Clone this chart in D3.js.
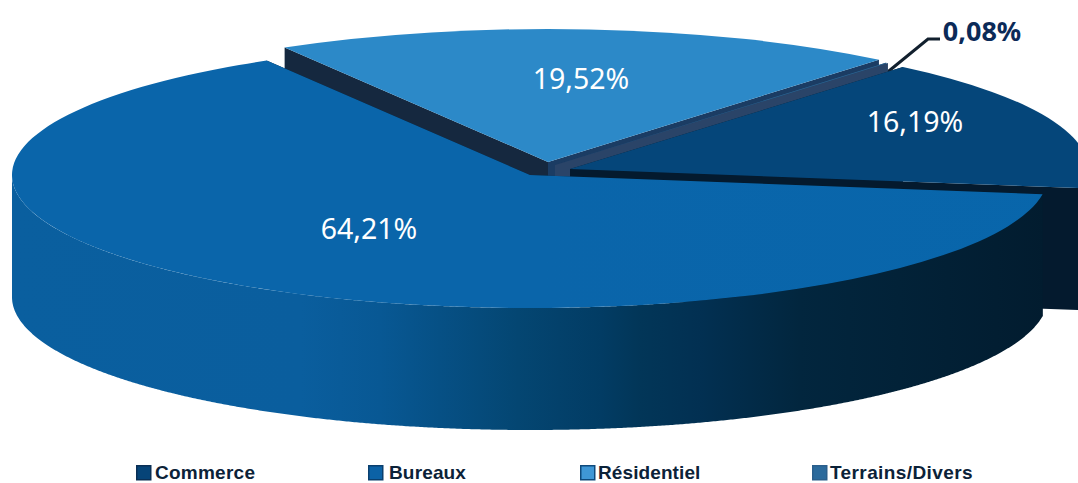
<!DOCTYPE html>
<html lang="fr">
<head>
<meta charset="utf-8">
<title>Répartition par type d'actif</title>
<script src="https://cdnjs.cloudflare.com/ajax/libs/d3/7.9.0/d3.min.js"></script>
<style>
  html, body { margin: 0; padding: 0; background: #fff; }
  svg { display: block; }
</style>
</head>
<body>
<div id="chart"></div>
<script>
// Portfolio split by asset type
const categories = ["Commerce", "Bureaux", "Résidentiel", "Terrains/Divers"];
const shares = [16.19, 64.21, 19.52, 0.08];
const shareLabels = ["16,19%", "64,21%", "19,52%", "0,08%"];

// Appearance per category
const topColors = ["url(#topCommerce)", "url(#topBureaux)", "#2c89c8", "#2b6390"];
const swatchColors = ["#064478", "#0c62a6", "#3f97d6", "#2b6a9c"];
const swatchBorders = ["#0a2f55", "#0a3f6e", "#0f4a7c", "#2b5f8c"];
const edgeColors = {
  Commerce: ["#041a2e", "#041a2e"],
  Bureaux: ["#021c2f", "#021c2f"],
  "Résidentiel": ["#15283f", "#1b3c63"],
  "Terrains/Divers": ["#1b3c63", "#2a4468"]
};
const rimFills = ["#071d30", "url(#rimBureaux)", "#15283f", "#1d3f60"];

// Pull-out of each wedge, and label anchors
const pullX = [40, 0, 18, 25];
const pullY = [-6, 0, -13, -10];
const labelX = [915, 369, 581, 982];
const labelY = [121, 228, 78, 30];

const width = 1078, height = 483;
const cx = 530, cy = 175, rx = 518, ry = 133, depth = 122;
const squash = ry / rx;

const svg = d3.select("#chart").append("svg")
  .attr("width", width).attr("height", height)
  .attr("viewBox", [0, 0, width, height]);

const defs = svg.append("defs");
function horizontalGradient(id, x1, x2, stops) {
  const g = defs.append("linearGradient").attr("id", id)
    .attr("gradientUnits", "userSpaceOnUse")
    .attr("x1", x1).attr("x2", x2).attr("y1", 0).attr("y2", 0);
  stops.forEach(([o, c]) => g.append("stop").attr("offset", o).attr("stop-color", c));
}
horizontalGradient("rimBureaux", 12, 1045, [
  [0, "#0a5f9f"], [0.28, "#0a5e9e"], [0.356, "#085894"], [0.414, "#065085"],
  [0.49, "#044672"], [0.57, "#023c64"], [0.608, "#023658"], [0.666, "#023052"],
  [0.763, "#02263e"], [1, "#021c2f"]
]);
horizontalGradient("topBureaux", 12, 1045, [
  [0, "#0a65aa"], [0.6, "#0866ab"], [1, "#0a5f9f"]
]);
horizontalGradient("topCommerce", 575, 1078, [
  [0, "#05467a"], [1, "#043a66"]
]);

// Wedge angles start from the Commerce edge, which sits just right of the front-right rim
const pie = d3.pie().sort(null).value(d => d.share)
  .startAngle(40 * Math.PI / 180)
  .endAngle((40 + 360) * Math.PI / 180);

const slices = pie(categories.map((name, i) => ({
  name, share: shares[i], top: topColors[i], rim: rimFills[i],
  dx: pullX[i], dy: pullY[i]
})));

const arc = d3.arc().innerRadius(0).outerRadius(rx);
const outline = d3.line();

const rimPoint = (a, d, drop = 0) => [
  cx + d.data.dx + rx * Math.sin(a),
  cy + d.data.dy - ry * Math.cos(a) + drop
];
const apex = (d, drop = 0) => [cx + d.data.dx, cy + d.data.dy + drop];

// Back wedges first so the front ones cover them
const paintOrder = ["Résidentiel", "Terrains/Divers", "Commerce", "Bureaux"];
const ordered = paintOrder.map(n => slices.find(s => s.data.name === n));

// Leader line for the smallest share, tucked behind the Commerce wedge
const leader = svg.append("path")
  .attr("fill", "none").attr("stroke", "#12202e").attr("stroke-width", 3)
  .attr("d", outline([[884, 75], [928, 39], [940, 39]]));

ordered.forEach(d => {
  const g = svg.append("g").attr("class", "slice");
  const [startEdge, endEdge] = edgeColors[d.data.name];

  // Cut faces along both radial edges
  [[d.startAngle, startEdge], [d.endAngle, endEdge]].forEach(([a, fill]) => {
    g.append("path")
      .attr("fill", fill)
      .attr("d", outline([apex(d), rimPoint(a, d), rimPoint(a, d, depth), apex(d, depth)]) + "Z");
  });

  // Outer wall: only the part of the rim that faces the viewer
  const from = Math.max(d.startAngle, Math.PI / 2), to = Math.min(d.endAngle, Math.PI * 1.5);
  const from2 = Math.max(d.startAngle, Math.PI * 2.5), to2 = Math.min(d.endAngle, Math.PI * 3.5);
  [[from, to], [from2, to2]].forEach(([a0, a1]) => {
    if (a1 <= a0) return;
    const angles = d3.range(a0, a1, 0.004).concat([a1]);
    const upper = angles.map(a => rimPoint(a, d));
    const lower = angles.map(a => rimPoint(a, d, depth)).reverse();
    g.append("path").attr("fill", d.data.rim).attr("d", outline(upper.concat(lower)) + "Z");
  });

  // Top face: a circular sector flattened into an ellipse
  g.append("path")
    .attr("fill", d.data.top)
    .attr("transform", `translate(${apex(d)}) scale(1,${squash})`)
    .attr("d", arc(d));
});

// Value labels
const labelFont = "'Noto Sans', 'Open Sans', sans-serif";
svg.append("g").selectAll("text").data(shareLabels).join("text")
  .attr("x", (_, i) => labelX[i])
  .attr("y", (_, i) => labelY[i])
  .attr("text-anchor", "middle").attr("dominant-baseline", "central")
  .attr("font-family", labelFont)
  .attr("font-size", (_, i) => i === 3 ? 27 : 28.5)
  .attr("font-weight", (_, i) => i === 3 ? 700 : 400)
  .attr("fill", (_, i) => i === 3 ? "#0b2a58" : "#fff")
  .text(d => d);

// Legend: swatch plus bold label
const legendX = [136, 368, 580, 812];
const legendTextX = [19, 21, 18, 18];
const legendSpacing = [0.25, 0.15, 0.1, 0.4];
const legend = svg.append("g").selectAll("g").data(categories).join("g")
  .attr("transform", (_, i) => `translate(${legendX[i]},465)`);
legend.append("rect")
  .attr("x", 0.75).attr("y", 0.75).attr("width", 14).attr("height", 14)
  .attr("fill", (_, i) => swatchColors[i])
  .attr("stroke", (_, i) => swatchBorders[i]).attr("stroke-width", 1.5);
legend.append("text")
  .attr("x", (_, i) => legendTextX[i])
  .attr("y", 14)
  .attr("font-family", "'Liberation Sans', sans-serif")
  .attr("font-size", 19).attr("font-weight", 700)
  .attr("letter-spacing", (_, i) => legendSpacing[i])
  .attr("fill", "#0b2238")
  .text(d => d);
</script>
</body>
</html>
